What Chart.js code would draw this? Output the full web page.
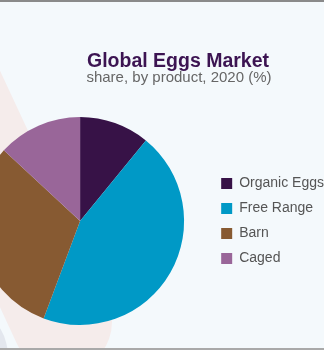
<!DOCTYPE html>
<html>
<head>
<meta charset="utf-8">
<script src="https://cdn.jsdelivr.net/npm/chart.js@4"></script>
<style>
  html, body { margin: 0; padding: 0; }
  body {
    width: 324px; height: 350px; overflow: hidden; position: relative;
    background: #f4f9fc;
    font-family: "Liberation Sans", Arial, sans-serif;
  }
  .frame-top { position: absolute; left: 0; top: 0; width: 324px; height: 2px; background: #8a8a8a; }
  .frame-bottom { position: absolute; left: 0; top: 348px; width: 324px; height: 2px; background: #a9a9a9; }
  .blob {
    position: absolute; left: 12px; top: -128px; width: 100px; height: 500px;
    border-radius: 50px; background: #f5eceb;
    transform-origin: 50px 450px; transform: rotate(-25deg);
  }
  .corner {
    position: absolute; left: -40px; top: 318px; width: 48px; height: 80px;
    border-radius: 50%; background: #e3e7ee;
  }
  #chart { position: absolute; left: -50px; top: 0; }
  .title {
    position: absolute; left: 0; width: 356px; text-align: center;
    top: 50px; font-size: 19.5px; line-height: 20px; font-weight: bold; color: #3c1452;
  }
  .subtitle {
    position: absolute; left: 0; width: 358px; text-align: center;
    top: 69px; font-size: 15px; line-height: 16px; color: #666;
  }
</style>
</head>
<body>
<div class="blob"></div>
<div class="corner"></div>
<div class="frame-top"></div>
<div class="frame-bottom"></div>
<canvas id="chart" width="384" height="350"></canvas>
<div class="title">Global Eggs Market</div>
<div class="subtitle">share, by product, 2020 (%)</div>
<script>
const products = ['Organic Eggs', 'Free Range', 'Barn', 'Caged'];
const shares = [10.9, 44.8, 31.2, 13.1];
const sliceColors = ['#371247', '#0099c6', '#875a32', '#996699'];

const ctx = document.getElementById('chart');

const chart = new Chart(ctx, {
  type: 'pie',
  data: {
    labels: products,
    datasets: [{
      data: shares,
      backgroundColor: sliceColors,
      borderWidth: 0
    }]
  },
  options: {
    responsive: false,
    animation: false,
    layout: {
      padding: { top: 117, bottom: 25, left: 0, right: 0 }
    },
    plugins: {
      tooltip: { enabled: false },
      legend: {
        position: 'right',
        align: 'center',
        labels: {
          boxWidth: 11,
          boxHeight: 11,
          padding: 11,
          color: '#555',
          font: { family: '"Liberation Sans", Arial, sans-serif', size: 14 }
        }
      }
    }
  }
});
</script>
</body>
</html>
